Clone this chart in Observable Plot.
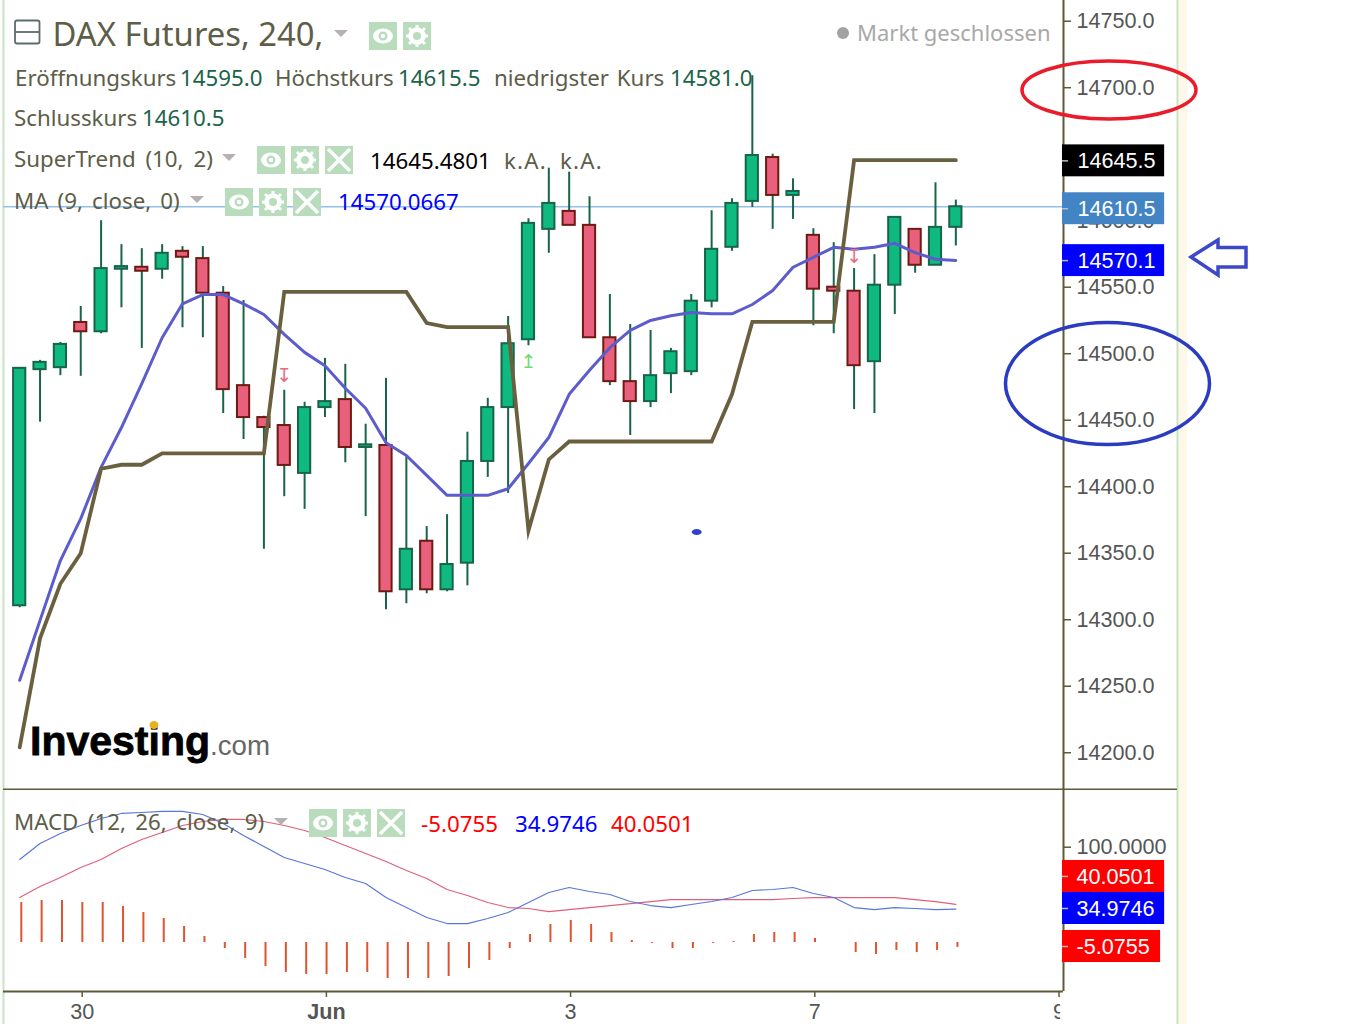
<!DOCTYPE html>
<html lang="de">
<head>
<meta charset="utf-8">
<script src="https://cdn.jsdelivr.net/npm/d3@7"></script>
<script src="https://cdn.jsdelivr.net/npm/@observablehq/plot@0.6"></script>
<style>
html,body{margin:0;padding:0;background:#fff;}
#chart{position:relative;width:1353px;height:1024px;overflow:hidden;}
#chart svg{display:block;}
.t{position:absolute;white-space:nowrap;font-family:"Noto Sans",sans-serif;font-size:22.3px;line-height:28px;color:#5d5d48;transform:translateY(-14px);}
.v{color:#1c6448;}
.over{position:absolute;left:0;top:0;pointer-events:none;}
</style>
</head>
<body>
<div id="chart"></div>
<script>
// ---------- data ----------
const opens  = [14310.5,14488,14489.5,14523.5,14516.5,14563.5,14565,14563.5,14577,14571.5,14545.5,14476,14452,14446,14410,14459.5,14465.5,14429.5,14431,14322.5,14359,14322.5,14342.5,14419,14459.5,14510.5,14593.5,14607,14596.5,14512,14479,14464,14485,14486.5,14539.5,14580,14614.5,14647.5,14619,14589,14550,14547,14494,14551.5,14593.5,14566.5,14595];
const highs  = [14489,14495,14508.5,14535.5,14600,14582,14579,14582,14580.5,14580.5,14550.5,14540,14453,14472.5,14463.5,14496.5,14492,14447,14481.5,14422.5,14370,14379,14441,14466.5,14528,14601.5,14639.5,14636.5,14618,14544.5,14522,14517.5,14504,14544.5,14607.5,14616.5,14709,14650,14631.5,14594,14583.5,14564,14574.5,14602.5,14593.5,14628.5,14615.5];
const lows   = [14309,14448.5,14483.5,14483,14515,14534.5,14504,14556,14519.5,14512,14455,14435.5,14353,14392.5,14383,14452,14418,14377.5,14307.5,14312,14319.5,14321,14325.5,14407,14395,14506,14575.5,14596.5,14512,14476,14438.5,14459.5,14470,14483.5,14534.5,14577,14610,14593.5,14601,14521,14515,14458,14455,14529.5,14560.5,14566.5,14581];
const closes = [14489,14493.5,14507,14516.5,14564,14565.5,14562,14575.5,14572.5,14545.5,14473,14452,14444.5,14416,14459.5,14464,14429.5,14431.5,14321,14353,14322.5,14341.5,14419,14459.5,14507.5,14598,14613,14596.5,14512,14479,14464,14483.5,14501.5,14539.5,14578.5,14613,14649,14619,14622,14548.5,14547,14491,14551.5,14602.5,14566.5,14595,14610.5];
const superTrend = [14204,14286,14327,14350,14413.5,14416.5,14416.5,14425,14425,14425,14425,14425,14425,14546.5,14546.5,14546.5,14546.5,14546.5,14546.5,14546.5,14523,14520,14520,14520,14520,14367,14420.5,14434,14434,14434,14434,14434,14434,14434,14434,14469.5,14524,14524,14524,14524,14524,14645.5,14645.5,14645.5,14645.5,14645.5,14645.5];
const ma = [14254.5,14299.5,14344.5,14376,14414.5,14444.5,14477.5,14512,14537.5,14544.5,14544.5,14537.5,14529.5,14514.5,14501,14491,14474,14459,14433,14423.5,14408.5,14393.5,14393.5,14393.5,14398.5,14417.5,14437,14469.5,14487.5,14504.5,14517.5,14525,14528.5,14531,14530,14530,14537,14547.5,14565,14572.5,14580,14578.5,14580,14583,14576,14571,14570.1];
const macd = [87.1,103.9,114.4,122.8,130.1,135.4,136.4,137.5,137.5,134.3,124.9,112.3,100.7,89.2,82.9,76.6,68.2,61.9,47.2,36.7,26.2,19.9,19.9,25.2,31.5,42,52.5,57.7,53.5,50.4,43,38.8,36.7,39.9,43,47.2,54.6,55.6,57.7,51.4,47.2,36.7,34.6,36.7,35.7,34.6,34.97];
const signalLine = [47.2,58.8,68.2,78.7,87.1,98.6,108.1,115.4,122.8,127,129.1,129.1,127,122.8,117.5,110.2,101.8,93.4,85,75.5,67.2,55.6,49.3,42,36.7,35.7,32.5,34.6,36.7,38.8,40.9,43,45.1,45.1,45.1,45.1,45.1,45.1,46.2,47.2,47.2,47.2,47.2,47.2,45.1,43,40.05];
const hist = [42,44.1,44.1,42,42,37.8,31.5,25.2,16.8,6.3,-6.3,-16.8,-25.2,-31.5,-33.6,-33.6,-31.5,-31.5,-37.8,-37.8,-37.8,-35.7,-27.3,-18.9,-6.3,8.4,18.9,23.1,18.9,10.5,2.1,-1,-6.3,-6.3,-1,1,8.4,10.5,10.5,4.2,0,-10.5,-12.6,-8.4,-10.5,-8.4,-5.08];

const priceTicks = [14200,14250,14300,14350,14400,14450,14500,14550,14600,14700,14750];
const macdTicks = [100];
const dateTicks = [3.07, 15.07, 27.07, 39.07, 51.07];
const dateLabels = ["30", "Jun", "3", "7", "9"];
const lastPrice = 14610.5;

const priceTags = [
  {text:"14645.5", at:14645, fill:"#000000"},
  {text:"14610.5", at:14609, fill:"#4384c4"},
  {text:"14570.1", at:14570, fill:"#0000ff"}
];
const macdTags = [
  {text:"40.0501", at:69.3, fill:"#ff0000", end:56.26},
  {text:"34.9746", at:35.7, fill:"#0000ff", end:56.26},
  {text:"-5.0755", at:-4.2, fill:"#ff0000", end:56.06}
];
const arrows = [
  {i:13, price:14483, glyph:"↧", color:"#ea6b80"},
  {i:25, price:14493.5, glyph:"↥", color:"#6fdc72"},
  {i:41, price:14573, glyph:"↧", color:"#ea6b80"}
];

// ---------- shared ----------
const candles = opens.map((o,i)=>({i,o,h:highs[i],l:lows[i],c:closes[i],up:closes[i]>=o}));
const idx = opens.map((_,i)=>i);
const xDomain = [-0.943, 51.29];
const edgeL = -0.796, edgeR = 56.89, bandR = 57.39;
const tagL = 51.24, tagR = 56.26, tagText = 51.98;
const olive = "#5c5a38", paleGreen = "#c8e4c4";
const axisFont = '"Liberation Sans",Arial,sans-serif';
const xOpts = {domain:xDomain, range:[0,1063]};

// ---------- price panel ----------
const yTop = [14171.6,14765.56];
const topPanel = Plot.plot({
  width:1353,height:790,marginTop:0,marginBottom:0,marginLeft:0,marginRight:290,
  x:{...xOpts,axis:null},
  y:{domain:yTop,range:[790,0],axis:null},
  style:{fontFamily:axisFont,fontSize:"21.6px",background:"transparent"},
  marks:[
    Plot.rect([0],{x1:edgeR,x2:bandR,y1:yTop[0],y2:yTop[1],fill:"#fdf8e8"}),
    Plot.ruleX([edgeL,edgeR],{stroke:paleGreen,strokeWidth:2}),
    Plot.axisY({anchor:"right",ticks:priceTicks,tickFormat:d=>d.toFixed(1),tickSize:7,tickPadding:6,stroke:olive,strokeWidth:1.5,fill:"#555",label:null}),
    Plot.ruleX([xDomain[1]],{stroke:olive,strokeWidth:2}),
    Plot.ruleY([14172.4],{x1:edgeL,x2:edgeR,stroke:olive,strokeWidth:2}),
    Plot.ruleY([lastPrice],{x1:edgeL,x2:xDomain[1],stroke:"#93bfe9",strokeWidth:1.5}),
    Plot.ruleX(candles,{x:"i",y1:"l",y2:"h",stroke:"#176448",strokeWidth:2}),
    Plot.rect(candles,{x1:d=>d.i-0.3,x2:d=>d.i+0.3,y1:d=>Math.min(d.o,d.c),y2:d=>Math.max(d.o,d.c),
      fill:d=>d.up?"#0fba80":"#e9607c",stroke:d=>d.up?"#176448":"#6d1a12",strokeWidth:2}),
    Plot.line(idx,{x:d=>d,y:i=>ma[i],stroke:"#5c5ccc",strokeWidth:3}),
    Plot.line(idx,{x:d=>d,y:i=>superTrend[i],stroke:"#6a6040",strokeWidth:3.8,strokeLinejoin:"miter",strokeMiterlimit:10}),
    Plot.text(arrows,{x:"i",y:"price",text:"glyph",fill:"color",fontSize:19,fontFamily:"DejaVu Sans"}),
    Plot.rect(priceTags,{x1:tagL,x2:tagR,y1:d=>d.at-12,y2:d=>d.at+12,fill:"fill"}),
    Plot.ruleY(priceTags,{y:"at",x1:tagL,x2:tagL+0.3,stroke:"#bbbbbb",strokeWidth:1.5}),
    Plot.text(priceTags,{x:tagText,y:"at",text:"text",fill:"#fff",textAnchor:"start"})
  ]
});

// ---------- MACD panel ----------
const yBot = [-51.4,159.5];
const bottomPanel = Plot.plot({
  width:1353,height:234,marginTop:0,marginBottom:33,marginLeft:0,marginRight:290,
  x:{...xOpts,axis:null},
  y:{domain:yBot,range:[201,0],axis:null},
  style:{fontFamily:axisFont,fontSize:"21.6px",background:"transparent"},
  marks:[
    Plot.rect([0],{x1:edgeR,x2:bandR,y1:-90,y2:yBot[1],fill:"#fdf8e8"}),
    Plot.ruleX([edgeL,edgeR],{y1:-90,y2:yBot[1],stroke:paleGreen,strokeWidth:2}),
    Plot.axisY({anchor:"right",ticks:macdTicks,tickFormat:d=>d.toFixed(4),tickSize:7,tickPadding:6,stroke:olive,strokeWidth:1.5,fill:"#555",label:null}),
    Plot.axisX({anchor:"bottom",ticks:dateTicks,tickFormat:(d,i)=>dateLabels[i],tickSize:6,tickPadding:6,stroke:olive,strokeWidth:1.5,fill:"#555",label:null}),
    Plot.rect([0],{x1:51.15,x2:51.9,y1:-59,y2:-90,fill:"#fff"}),
    Plot.ruleX([xDomain[1]],{y1:yBot[0],y2:yBot[1],stroke:olive,strokeWidth:2}),
    Plot.ruleY([yBot[0]],{x1:edgeL,x2:xDomain[1],stroke:olive,strokeWidth:2}),
    Plot.ruleX(idx,{x:d=>d,y1:()=>0,y2:i=>hist[i],stroke:"#e0532f",strokeWidth:2,dx:1.6}),
    Plot.line(idx,{x:d=>d,y:i=>signalLine[i],stroke:"#e0607c",strokeWidth:1.2}),
    Plot.line(idx,{x:d=>d,y:i=>macd[i],stroke:"#5878d8",strokeWidth:1.2}),
    Plot.rect(macdTags,{x1:tagL,x2:"end",y1:d=>d.at-16.8,y2:d=>d.at+16.8,fill:"fill"}),
    Plot.ruleY(macdTags,{y:"at",x1:tagL,x2:tagL+0.3,stroke:"#bbbbbb",strokeWidth:1.5}),
    Plot.text(macdTags,{x:tagText-0.05,y:"at",dy:1,text:"text",fill:"#fff",textAnchor:"start"})
  ]
});
bottomPanel.querySelectorAll("text").forEach(t=>{
  if(t.textContent==="Jun") t.setAttribute("font-weight","bold");
});

const root = document.getElementById("chart");
root.append(topPanel,bottomPanel);

// ---------- legend text overlay ----------
const legend = [
  ["DAX Futures, 240,",52.5,34,"",32.8],
  ["Markt geschlossen",857,32,"color:#a8a8a8",22],
  ["Eröffnungskurs",15,78],["14595.0",180,78,"v"],
  ["Höchstkurs",275,78],["14615.5",398,78,"v"],
  ["niedrigster Kurs",494,78,"word-spacing:2px"],["14581.0",670,78,"v"],
  ["Schlusskurs",14,118],["14610.5",142,118,"v"],
  ["SuperTrend (10, 2)",14,159,"word-spacing:4px"],["14645.4801",370,160.5,"color:#000"],
  ["k.A.",504,160.5,"letter-spacing:1.2px"],["k.A.",560,160.5,"letter-spacing:1.2px"],
  ["MA (9, close, 0)",14,201,"word-spacing:3.3px"],["14570.0667",338,202,"color:#0000ff"],
  ["MACD (12, 26, close, 9)",14,822,"word-spacing:3.6px"],
  ["-5.0755",421,823.5,"color:#ff0000"],["34.9746",515,823.5,"color:#0000ff"],["40.0501",611,823.5,"color:#ff0000"]
];
legend.forEach(([s,x,y,cls,size])=>{
  const e=document.createElement("div");
  e.className="t";
  e.textContent=s;
  e.style.left=x+"px"; e.style.top=y+"px";
  if(size) e.style.fontSize=size+"px";
  if(cls==="v") e.classList.add("v"); else if(cls) e.style.cssText+=";"+cls;
  root.append(e);
});

// investing.com logo
const logo=document.createElement("div");
logo.className="t";
logo.style.cssText+=';left:30px;top:741px;font-family:"Liberation Sans",Arial,sans-serif;color:#000;line-height:40px;transform:translateY(-20px);';
logo.innerHTML='<span style="font-weight:bold;font-size:41px;-webkit-text-stroke:0.8px #000;">Investing</span><span style="font-size:27.7px;color:#666;">.com</span>';
root.append(logo);

// ---------- icons and hand-drawn annotations ----------
const icon = (x,y,k)=>{
  const c=`<rect x="${x}" y="${y}" width="28" height="28" fill="#b9dcbc"/>`;
  const cx=x+14, cy=y+14;
  if(k==="eye") return c+`<ellipse cx="${cx}" cy="${cy}" rx="10" ry="7.5" fill="#fff"/><circle cx="${cx}" cy="${cy}" r="4.5" fill="#b9dcbc"/><circle cx="${cx}" cy="${cy}" r="2.2" fill="#fff"/>`;
  if(k==="gear") return c+`<circle cx="${cx}" cy="${cy}" r="6.5" fill="none" stroke="#fff" stroke-width="4.5"/><path d="M${cx} ${cy-11}V${cy+11}M${cx-11} ${cy}H${cx+11}M${cx-8} ${cy-8}L${cx+8} ${cy+8}M${cx-8} ${cy+8}L${cx+8} ${cy-8}" stroke="#fff" stroke-width="3" /><circle cx="${cx}" cy="${cy}" r="4" fill="#b9dcbc"/>`;
  return c+`<path d="M${cx-11} ${cy-11}L${cx+11} ${cy+11}M${cx-11} ${cy+11}L${cx+11} ${cy-11}" stroke="#fff" stroke-width="3.5"/>`;
};
const tri=(x,y)=>`<path d="M${x} ${y}h14l-7 7z" fill="#b9afb2"/>`;
const overlay=`<svg class="over" width="1353" height="1024" xmlns="http://www.w3.org/2000/svg">
<rect x="15" y="20.5" width="24.5" height="23" rx="2" fill="none" stroke="#5f6a6a" stroke-width="1.8"/><path d="M15 32H39.5" stroke="#5f6a6a" stroke-width="1.8"/>
${tri(334,30)}${icon(369,22,"eye")}${icon(403,22,"gear")}
${tri(222,154)}${icon(257,146,"eye")}${icon(291,146,"gear")}${icon(325,146,"x")}
${tri(190,196)}${icon(225,188,"eye")}${icon(259,188,"gear")}${icon(293,188,"x")}
${tri(274,818)}${icon(309,809,"eye")}${icon(343,809,"gear")}${icon(377,809,"x")}
<circle cx="843" cy="33" r="6" fill="#a2a2a2"/>
<ellipse cx="1109" cy="90" rx="87" ry="29" fill="none" stroke="#ea1c2c" stroke-width="3.5"/>
<ellipse cx="1107.5" cy="383.5" rx="102" ry="61" fill="none" stroke="#2c3cc0" stroke-width="3.5"/>
<path d="M1191 257L1218 240V247.5H1246V267H1218V275Z" fill="#fff" stroke="#3c48c8" stroke-width="3.5"/>
<ellipse cx="696.7" cy="532" rx="5" ry="3" fill="#3040c8"/>
<ellipse cx="154" cy="725" rx="4.5" ry="4" fill="#e8b020"/>
</svg>`;
root.insertAdjacentHTML("beforeend",overlay);
</script>
</body>
</html>
